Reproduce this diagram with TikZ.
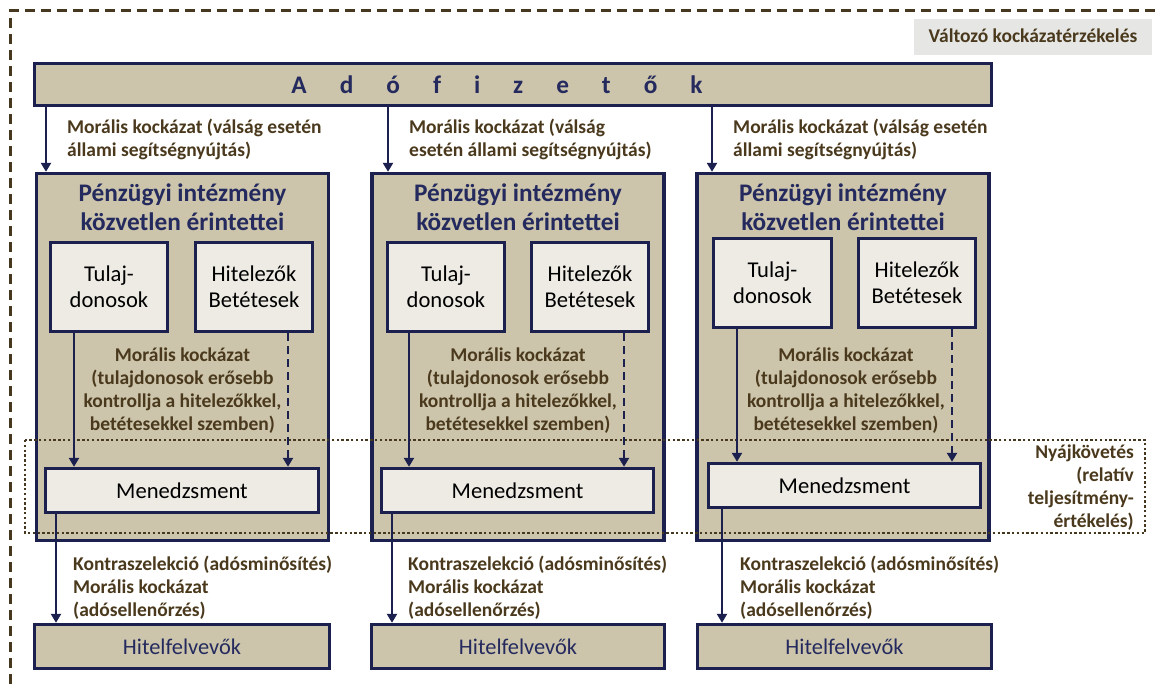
\documentclass[tikz,border=0pt]{standalone}
\usepackage{fontspec}
\setmainfont{Carlito}
\usetikzlibrary{arrows.meta}
\definecolor{navy}{RGB}{28,32,78}
\definecolor{navytext}{RGB}{36,42,94}
\definecolor{tanfill}{RGB}{204,197,171}
\definecolor{lightfill}{RGB}{237,235,228}
\definecolor{browntext}{RGB}{74,57,28}
\definecolor{graylabel}{RGB}{230,231,229}
\definecolor{outerline}{RGB}{70,56,30}
\newcommand\lsp{\hspace{33pt}}
\begin{document}
\begin{tikzpicture}[x=1pt,y=-1pt,
  tanbox/.style={draw=navy, line width=3.4pt, fill=tanfill, rectangle, inner sep=0pt},
  whitebox/.style={draw=navy, line width=3.4pt, fill=lightfill, rectangle, inner sep=0pt,
    font=\fontsize{22.6}{26}\selectfont, text=black, align=center},
  borrower/.style={tanbox, font=\fontsize{22.4}{26}\selectfont, text=navytext},
  arr/.style={draw=navy, line width=2.8pt, -{Triangle[width=10pt,length=9pt]}},
  darr/.style={arr, dash pattern=on 8pt off 5pt},
  lbl/.style={font=\fontsize{19.5}{23}\selectfont\bfseries, text=browntext, inner sep=0pt},
  titletext/.style={font=\fontsize{25.3}{29}\selectfont\bfseries, text=navytext, inner sep=0pt, align=center}
]
\useasboundingbox (0,0) rectangle (1155,684);
\fill[white] (0,0) rectangle (1155,684);
% outer dashed frame
\begin{scope}
\clip (0,0) rectangle (1155,684);
\draw[outerline, line width=3pt, dash pattern=on 10pt off 6pt] (10,700) -- (10,11) -- (1170,11);
\end{scope}
% label top right
\node[fill=graylabel, minimum width=238pt, minimum height=36pt, inner sep=0pt] (vk) at (1033,37) {};
\node[lbl, anchor=base] (vkt) at (vk.center |- 0,43) {Változó kockázatérzékelés};

% taxpayers bar
\node[tanbox, minimum width=957pt, minimum height=42pt] (ado) at (513,84.5) {};
\node[titletext, anchor=base] (adot) at (497,94) {A\lsp d\lsp ó\lsp f\lsp i\lsp z\lsp e\lsp t\lsp ő\lsp k};

% institution boxes
\node[tanbox, minimum width=292pt, minimum height=367pt] (i1) at (182.5,357) {};
\node[tanbox, minimum width=292pt, minimum height=367pt] (i2) at (518,357) {};
\node[tanbox, minimum width=292pt, minimum height=367pt] (i3) at (843,357) {};

\node[titletext, anchor=base] (t1) at (182.5,231) {Pénzügyi intézmény\\közvetlen érintettei};
\node[titletext, anchor=base] (t2) at (518,231) {Pénzügyi intézmény\\közvetlen érintettei};
\node[titletext, anchor=base] (t3) at (843,231) {Pénzügyi intézmény\\közvetlen érintettei};

% owners / creditors
\node[whitebox, minimum width=117pt, minimum height=89pt] (o1) at (109,287) {Tulaj-\\donosok};
\node[whitebox, minimum width=117pt, minimum height=89pt] (c1) at (254,287) {Hitelezők\\Betétesek};
\node[whitebox, minimum width=117pt, minimum height=89pt] (o2) at (446,287) {Tulaj-\\donosok};
\node[whitebox, minimum width=117pt, minimum height=89pt] (c2) at (590,287) {Hitelezők\\Betétesek};
\node[whitebox, minimum width=118pt, minimum height=89pt] (o3) at (772.5,283) {Tulaj-\\donosok};
\node[whitebox, minimum width=117pt, minimum height=89pt] (c3) at (917,283) {Hitelezők\\Betétesek};

% management
\node[whitebox, minimum width=273pt, minimum height=44pt] (g1) at (182,490.5) {Menedzsment};
\node[whitebox, minimum width=272pt, minimum height=44pt] (g2) at (517.5,490.5) {Menedzsment};
\node[whitebox, minimum width=272pt, minimum height=44pt] (g3) at (844.5,485.5) {Menedzsment};

% borrowers
\node[borrower, minimum width=295pt, minimum height=44pt] (b1) at (182,646.5) {Hitelfelvevők};
\node[borrower, minimum width=293pt, minimum height=44pt] (b2) at (518,646.5) {Hitelfelvevők};
\node[borrower, minimum width=294pt, minimum height=44pt] (b3) at (844.5,646.5) {Hitelfelvevők};

% herding dotted frame
\draw[outerline, line width=2.6pt, dash pattern=on 2.4pt off 2.4pt] (25,440) rectangle (1145,533);
\node[lbl, align=right, anchor=base east] (nyaj) at (1134,527) {Nyájkövetés\\(relatív\\teljesítmény-\\értékelés)};

% column x coordinates
\coordinate (xa1) at (46,0);  \coordinate (xa2) at (388,0); \coordinate (xa3) at (712,0);
\coordinate (xo1) at (74,0);  \coordinate (xo2) at (409,0); \coordinate (xo3) at (737,0);
\coordinate (xc1) at (288,0); \coordinate (xc2) at (624,0); \coordinate (xc3) at (952,0);
\coordinate (xg1) at (56,0);  \coordinate (xg2) at (392,0); \coordinate (xg3) at (722,0);

% arrows
\draw[arr] (ado.south -| xa1) -- (i1.north -| xa1);
\draw[arr] (ado.south -| xa2) -- (i2.north -| xa2);
\draw[arr] (ado.south -| xa3) -- (i3.north -| xa3);
\draw[arr] (o1.south -| xo1) -- (g1.north -| xo1);
\draw[arr] (o2.south -| xo2) -- (g2.north -| xo2);
\draw[arr] (o3.south -| xo3) -- (g3.north -| xo3);
\draw[darr] (c1.south -| xc1) -- (g1.north -| xc1);
\draw[darr] (c2.south -| xc2) -- (g2.north -| xc2);
\draw[darr] (c3.south -| xc3) -- (g3.north -| xc3);
\draw[arr] (g1.south -| xg1) -- (b1.north -| xg1);
\draw[arr] (g2.south -| xg2) -- (b2.north -| xg2);
\draw[arr] (g3.south -| xg3) -- (b3.north -| xg3);

% labels
\node[lbl, align=left, anchor=base west] (ma1) at (67,157) {Morális kockázat (válság esetén\\állami segítségnyújtás)};
\node[lbl, align=left, anchor=base west] (ma2) at (409,157) {Morális kockázat (válság\\esetén állami segítségnyújtás)};
\node[lbl, align=left, anchor=base west] (ma3) at (733,157) {Morális kockázat (válság esetén\\állami segítségnyújtás)};

\node[lbl, align=center, anchor=base] (mi1) at (182.5,430) {Morális kockázat\\(tulajdonosok erősebb\\kontrollja a hitelezőkkel,\\betétesekkel szemben)};
\node[lbl, align=center, anchor=base] (mi2) at (518,430) {Morális kockázat\\(tulajdonosok erősebb\\kontrollja a hitelezőkkel,\\betétesekkel szemben)};
\node[lbl, align=center, anchor=base] (mi3) at (846,430) {Morális kockázat\\(tulajdonosok erősebb\\kontrollja a hitelezőkkel,\\betétesekkel szemben)};

\node[lbl, align=left, anchor=base west] (k1) at (73,616) {Kontraszelekció (adósminősítés)\\Morális kockázat\\(adósellenőrzés)};
\node[lbl, align=left, anchor=base west] (k2) at (408,616) {Kontraszelekció (adósminősítés)\\Morális kockázat\\(adósellenőrzés)};
\node[lbl, align=left, anchor=base west] (k3) at (740,616) {Kontraszelekció (adósminősítés)\\Morális kockázat\\(adósellenőrzés)};
\end{tikzpicture}
\end{document}
